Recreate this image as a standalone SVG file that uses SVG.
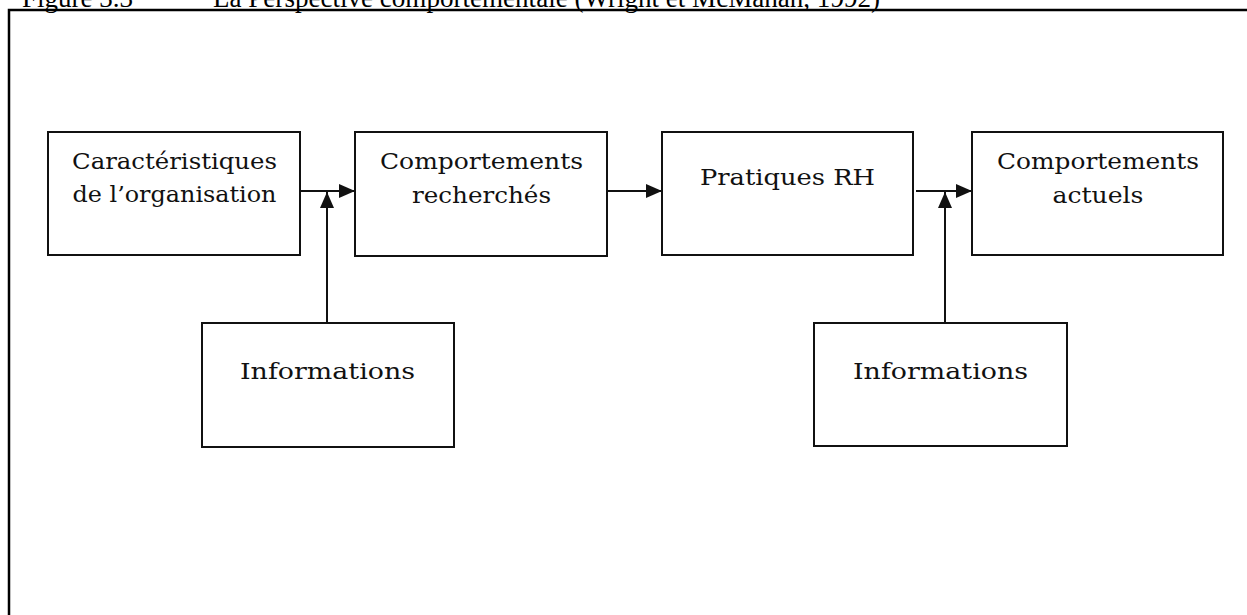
<svg xmlns="http://www.w3.org/2000/svg" width="1247" height="615" viewBox="0 0 1247 615">
  <style>
    .box { fill: #fff; stroke: #111; stroke-width: 2; }
    .lbl { font-family: "DejaVu Serif", "Liberation Serif", serif; font-size: 23px; fill: #111; text-anchor: middle; }
    .title { font-family: "Liberation Serif", "Times New Roman", serif; font-size: 28px; fill: #000; }
    .wire { fill: none; stroke: #111; stroke-width: 2; }
    .frame { fill: none; stroke: #000; stroke-width: 2.5; }
  </style>
  <defs>
    <marker id="head" viewBox="0 0 16 14" refX="16" refY="7" markerWidth="16" markerHeight="14" markerUnits="userSpaceOnUse" orient="auto">
      <path d="M0,0 L16,7 L0,14 Z" fill="#111"/>
    </marker>
  </defs>

  <rect width="1247" height="615" fill="#fff"/>

  <!-- caption -->
  <g id="caption">
    <text class="title" x="22" y="6.5" textLength="111" lengthAdjust="spacingAndGlyphs">Figure 3.3</text>
    <text class="title" x="213" y="6.5" textLength="667" lengthAdjust="spacingAndGlyphs">La Perspective comportementale (Wright et McMahan, 1992)</text>
  </g>

  <!-- outer frame -->
  <rect class="frame" x="9" y="10" width="1260" height="640"/>

  <!-- connectors -->
  <g id="connectors">
    <line class="wire" x1="300" y1="191" x2="355" y2="191" marker-end="url(#head)"/>
    <line class="wire" x1="327" y1="323" x2="327" y2="192" marker-end="url(#head)"/>
    <line class="wire" x1="607" y1="191" x2="662" y2="191" marker-end="url(#head)"/>
    <line class="wire" x1="916" y1="191" x2="972" y2="191" marker-end="url(#head)"/>
    <line class="wire" x1="945" y1="323" x2="945" y2="192" marker-end="url(#head)"/>
  </g>

  <g id="caracteristiques">
    <rect class="box" x="48" y="132" width="252" height="123"/>
    <text class="lbl" x="174.5" y="169" textLength="205" lengthAdjust="spacingAndGlyphs">Caractéristiques</text>
    <text class="lbl" x="174.5" y="202" textLength="204" lengthAdjust="spacingAndGlyphs">de l’organisation</text>
  </g>

  <g id="comportements-recherches">
    <rect class="box" x="355" y="132" width="252" height="124"/>
    <text class="lbl" x="481.5" y="169" textLength="203" lengthAdjust="spacingAndGlyphs">Comportements</text>
    <text class="lbl" x="481.5" y="203" textLength="139" lengthAdjust="spacingAndGlyphs">recherchés</text>
  </g>

  <g id="pratiques-rh">
    <rect class="box" x="662" y="132" width="251" height="123"/>
    <text class="lbl" x="787.5" y="185" textLength="175" lengthAdjust="spacingAndGlyphs">Pratiques RH</text>
  </g>

  <g id="comportements-actuels">
    <rect class="box" x="972" y="132" width="251" height="123"/>
    <text class="lbl" x="1098" y="169" textLength="202" lengthAdjust="spacingAndGlyphs">Comportements</text>
    <text class="lbl" x="1098" y="203" textLength="91" lengthAdjust="spacingAndGlyphs">actuels</text>
  </g>

  <g id="informations-1">
    <rect class="box" x="202" y="323" width="252" height="124"/>
    <text class="lbl" x="327.5" y="379" textLength="175" lengthAdjust="spacingAndGlyphs">Informations</text>
  </g>

  <g id="informations-2">
    <rect class="box" x="814" y="323" width="253" height="123"/>
    <text class="lbl" x="940.5" y="379" textLength="175" lengthAdjust="spacingAndGlyphs">Informations</text>
  </g>
</svg>
